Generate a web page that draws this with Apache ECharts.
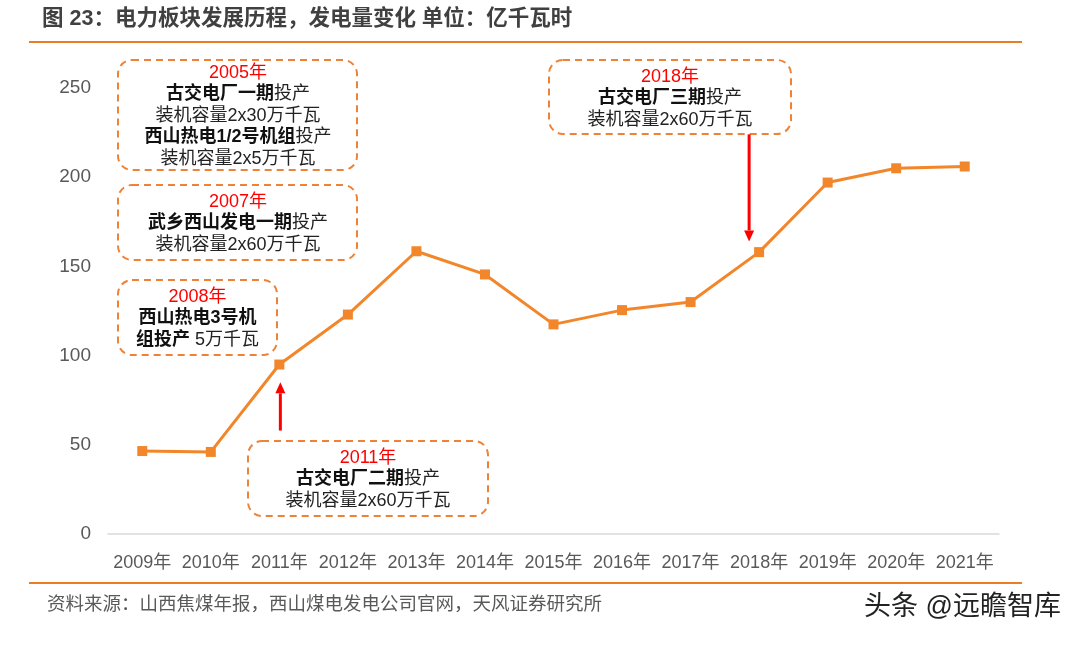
<!DOCTYPE html>
<html><head><meta charset="utf-8">
<script src="https://cdn.jsdelivr.net/npm/echarts@6/dist/echarts.min.js"></script>
<style>html,body{margin:0;padding:0;background:#fff;}#c{width:1082px;height:645px;}</style>
</head><body><div id="c"></div>
<script>
const categories = ['2009年','2010年','2011年','2012年','2013年','2014年','2015年','2016年','2017年','2018年','2019年','2020年','2021年'];
const generation = [46.5, 46, 95, 123, 158.5, 145.5, 117.5, 125.5, 130, 158, 197, 205, 206];
const yTicks = { min: 0, max: 250, interval: 50 };
// arrow annotations: [category, from value, to value, horizontal pixel offset]
const arrow2011 = ['2011年', 58, 85, 1];
const arrow2018 = ['2018年', 224, 164, -10];

const FONT = '"Liberation Sans", "Noto Sans CJK SC", sans-serif';
const ORANGE = '#F2862B';
const BOXC = '#EE8236';
const FS = 18, LH = 21.5;

const richStyles = {
  r: { fill: '#FF0000', fontSize: FS, fontFamily: FONT, lineHeight: LH },
  b: { fill: '#111', fontSize: FS, fontWeight: 'bold', fontFamily: FONT, lineHeight: LH },
  n: { fill: '#222', fontSize: FS, fontFamily: FONT, lineHeight: LH }
};
function box(x, y, w, h) {
  return { type: 'rect', shape: { x: x, y: y, width: w, height: h, r: 14 },
    style: { fill: 'rgba(0,0,0,0)', stroke: BOXC, lineWidth: 2, lineDash: [7, 5] }, z: 10 };
}
function label(cx, top, text) {
  return { type: 'text', x: cx, y: top, z: 11,
    style: { text: text, rich: richStyles, align: 'center', verticalAlign: 'top', fontFamily: FONT, fontSize: FS, lineHeight: LH } };
}

const chart = echarts.init(document.getElementById('c'), null, { renderer: 'canvas' });
const baseGraphics = [
  { type: 'text', left: 42, top: 8, style: { text: '图 23：电力板块发展历程，发电量变化 单位：亿千瓦时', fill: '#404040', fontSize: 21.5, fontWeight: 'bold', fontFamily: FONT } },
  { type: 'line', shape: { x1: 29, y1: 42, x2: 1022, y2: 42 }, style: { stroke: '#EC7C22', lineWidth: 2 } },
  { type: 'line', shape: { x1: 29, y1: 583, x2: 1022, y2: 583 }, style: { stroke: '#EC7C22', lineWidth: 2 } },
  { type: 'text', left: 47, top: 596, style: { text: '资料来源：山西焦煤年报，西山煤电发电公司官网，天风证券研究所', fill: '#595959', fontSize: 18.5, fontFamily: FONT } },
  { type: 'text', left: 864, top: 594, style: { text: '头条 @远瞻智库', fill: '#222', fontSize: 27, fontFamily: FONT } },

  box(118, 60, 239, 110),
  label(238, 62, '{r|2005年}\n{b|古交电厂一期}{n|投产}\n{n|装机容量2x30万千瓦}\n{b|西山热电1/2号机组}{n|投产}\n{n|装机容量2x5万千瓦}'),
  box(118, 185, 239, 75),
  label(238, 191, '{r|2007年}\n{b|武乡西山发电一期}{n|投产}\n{n|装机容量2x60万千瓦}'),
  box(118, 280, 159, 75),
  label(197.5, 286, '{r|2008年}\n{b|西山热电3号机}\n{b|组投产} {n|5万千瓦}'),
  box(248, 441, 240, 75),
  label(368, 447, '{r|2011年}\n{b|古交电厂二期}{n|投产}\n{n|装机容量2x60万千瓦}'),
  box(549, 60, 242, 74),
  label(670, 66, '{r|2018年}\n{b|古交电厂三期}{n|投产}\n{n|装机容量2x60万千瓦}')
];

chart.setOption({
  animation: false,
  backgroundColor: '#fff',
  grid: { left: 108, right: 83, top: 88, bottom: 111, containLabel: false },
  xAxis: {
    type: 'category', data: categories, boundaryGap: true,
    axisLine: { show: true, lineStyle: { color: '#D9D9D9', width: 1.5 } },
    axisTick: { show: false },
    axisLabel: { color: '#595959', fontSize: 18, fontFamily: FONT, margin: 20, interval: 0 }
  },
  yAxis: {
    type: 'value', min: yTicks.min, max: yTicks.max, interval: yTicks.interval,
    splitLine: { show: false }, axisLine: { show: false }, axisTick: { show: false },
    axisLabel: { color: '#595959', fontSize: 19, fontFamily: FONT, margin: 17 }
  },
  series: [{
    type: 'line', data: generation,
    symbol: 'rect', symbolSize: 10,
    lineStyle: { color: ORANGE, width: 3 },
    itemStyle: { color: ORANGE }
  }],
  graphic: baseGraphics
});

function arrowGraphics(a) {
  const p0 = chart.convertToPixel({ gridIndex: 0 }, [a[0], a[1]]);
  const p1 = chart.convertToPixel({ gridIndex: 0 }, [a[0], a[2]]);
  const x = p0[0] + a[3];
  const dir = p1[1] < p0[1] ? -1 : 1;
  const headH = 11, headW = 5;
  const baseY = p1[1] - dir * headH;
  return [
    { type: 'line', z: 12, shape: { x1: x, y1: p0[1], x2: x, y2: baseY }, style: { stroke: '#FF0000', lineWidth: 3 } },
    { type: 'polygon', z: 12, shape: { points: [[x - headW, baseY], [x + headW, baseY], [x, p1[1]]] }, style: { fill: '#FF0000' } }
  ];
}
chart.setOption({ graphic: baseGraphics.concat(arrowGraphics(arrow2011), arrowGraphics(arrow2018)) }, { replaceMerge: ['graphic'] });
</script></body></html>
